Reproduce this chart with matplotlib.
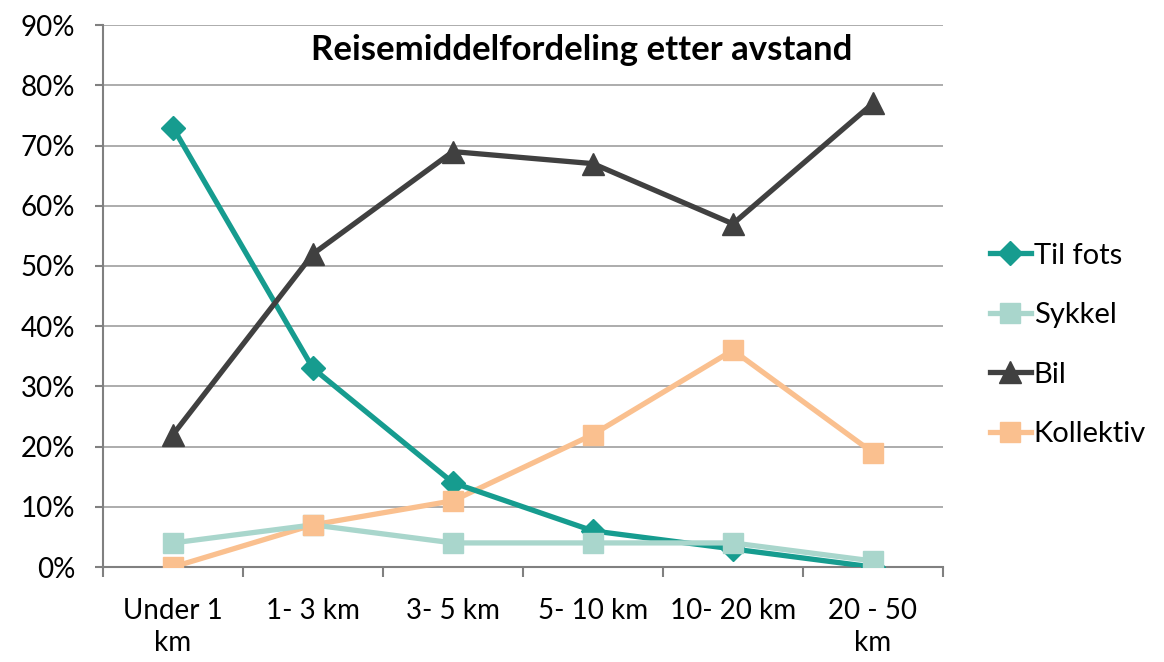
import matplotlib.pyplot as plt
from matplotlib.lines import Line2D
from matplotlib.ticker import FuncFormatter, FixedLocator

plt.rcParams['font.family'] = ['Lato', 'DejaVu Sans']

categories = ['Under 1\nkm', '1- 3 km', '3- 5 km', '5- 10 km', '10- 20 km', '20 - 50\nkm']
til_fots = [73, 33, 14, 6, 3, 0]
sykkel = [4, 7, 4, 4, 4, 1]
bil = [22, 52, 69, 67, 57, 77]
kollektiv = [0, 7, 11, 22, 36, 19]

series = [
    ('Til fots', til_fots, '#169c8f', 'D', 12, 3),
    ('Sykkel', sykkel, '#a9d6cc', 's', 14, 4),
    ('Bil', bil, '#404040', '^', 16, 5),
    ('Kollektiv', kollektiv, '#fac08f', 's', 14, 2),
]

fig = plt.figure(figsize=(11.64, 6.62), dpi=100)
ax = fig.add_axes([0.0885, 0.1435, 0.7215, 0.8185])

x = list(range(len(categories)))
handles = []
for i, (name, vals, col, mk, ms, zl) in enumerate(series):
    # lines first, markers on top (like Excel)
    ax.plot(x, vals, color=col, lw=3.8, zorder=zl)
    ax.plot(x, vals, color=col, ls='none', marker=mk, ms=ms, zorder=6 + i)
    handles.append(Line2D([], [], color=col, lw=3.8, marker=mk, ms=ms, label=name))

ax.set_xlim(-0.5, len(categories) - 0.5)
ax.set_ylim(0, 90)
ax.set_yticks(range(0, 91, 10))
ax.yaxis.set_major_formatter(FuncFormatter(lambda v, p: f'{int(v)}%'))
ax.set_xticks(x)
ax.set_xticklabels(categories, multialignment='center', linespacing=1.3)
ax.xaxis.set_minor_locator(FixedLocator([i + 0.5 for i in range(-1, len(categories))]))
ax.tick_params(axis='x', which='major', length=0, pad=22, labelsize=20)
ax.tick_params(axis='x', which='minor', length=7, width=1.5, color='#808080')
ax.tick_params(axis='y', length=6, width=1.5, color='#808080', labelsize=20, pad=14)

ax.grid(axis='y', color='#a6a6a6', lw=1.3)
ax.set_axisbelow(True)
for s in ['top', 'right']:
    ax.spines[s].set_visible(False)
ax.spines['left'].set_color('#808080')
ax.spines['left'].set_linewidth(1.5)
ax.spines['bottom'].set_color('#808080')
ax.spines['bottom'].set_linewidth(1.5)

ax.text(0.57, 0.955, 'Reisemiddelfordeling etter avstand', transform=ax.transAxes,
        ha='center', va='center', fontsize=25, fontweight='bold')

fig.legend(handles=handles, loc='center left', bbox_to_anchor=(0.828, 0.479), frameon=False,
           fontsize=21, labelspacing=1.15, handlelength=1.4, handletextpad=0.1)

fig.savefig('out.png', dpi=100)
